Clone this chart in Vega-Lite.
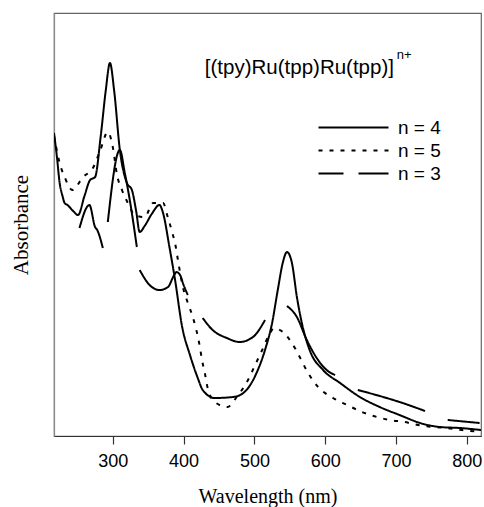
{
  "$schema": "https://vega.github.io/schema/vega-lite/v6.json",
  "width": 427,
  "height": 423,
  "autosize": {"type": "none"},
  "padding": {"left": 54, "top": 13, "right": 3, "bottom": 71},
  "background": "white",
  "config": {
    "view": {"stroke": "#666", "strokeWidth": 1.2},
    "axis": {"grid": false}
  },
  "datasets": {
    "spectra": [
      {"n": "n = 4", "seg": "4", "wl": 217, "abs": 303},
      {"n": "n = 4", "seg": "4", "wl": 221, "abs": 280},
      {"n": "n = 4", "seg": "4", "wl": 225, "abs": 253},
      {"n": "n = 4", "seg": "4", "wl": 229, "abs": 240},
      {"n": "n = 4", "seg": "4", "wl": 232, "abs": 233},
      {"n": "n = 4", "seg": "4", "wl": 236, "abs": 231},
      {"n": "n = 4", "seg": "4", "wl": 244, "abs": 225},
      {"n": "n = 4", "seg": "4", "wl": 251, "abs": 221},
      {"n": "n = 4", "seg": "4", "wl": 260, "abs": 240},
      {"n": "n = 4", "seg": "4", "wl": 268, "abs": 256},
      {"n": "n = 4", "seg": "4", "wl": 275, "abs": 259},
      {"n": "n = 4", "seg": "4", "wl": 283, "abs": 300},
      {"n": "n = 4", "seg": "4", "wl": 290, "abs": 345},
      {"n": "n = 4", "seg": "4", "wl": 296, "abs": 373},
      {"n": "n = 4", "seg": "4", "wl": 302, "abs": 345},
      {"n": "n = 4", "seg": "4", "wl": 310, "abs": 286},
      {"n": "n = 4", "seg": "4", "wl": 320, "abs": 253},
      {"n": "n = 4", "seg": "4", "wl": 327, "abs": 246},
      {"n": "n = 4", "seg": "4", "wl": 333, "abs": 225},
      {"n": "n = 4", "seg": "4", "wl": 338, "abs": 204},
      {"n": "n = 4", "seg": "4", "wl": 345, "abs": 210},
      {"n": "n = 4", "seg": "4", "wl": 355, "abs": 222},
      {"n": "n = 4", "seg": "4", "wl": 366, "abs": 231},
      {"n": "n = 4", "seg": "4", "wl": 371, "abs": 223},
      {"n": "n = 4", "seg": "4", "wl": 380, "abs": 189},
      {"n": "n = 4", "seg": "4", "wl": 388, "abs": 156},
      {"n": "n = 4", "seg": "4", "wl": 398, "abs": 109},
      {"n": "n = 4", "seg": "4", "wl": 409, "abs": 81},
      {"n": "n = 4", "seg": "4", "wl": 420, "abs": 58},
      {"n": "n = 4", "seg": "4", "wl": 427, "abs": 46},
      {"n": "n = 4", "seg": "4", "wl": 444, "abs": 38},
      {"n": "n = 4", "seg": "4", "wl": 470, "abs": 39},
      {"n": "n = 4", "seg": "4", "wl": 486, "abs": 44},
      {"n": "n = 4", "seg": "4", "wl": 503, "abs": 63},
      {"n": "n = 4", "seg": "4", "wl": 515, "abs": 86},
      {"n": "n = 4", "seg": "4", "wl": 525, "abs": 113},
      {"n": "n = 4", "seg": "4", "wl": 533, "abs": 146},
      {"n": "n = 4", "seg": "4", "wl": 540, "abs": 173},
      {"n": "n = 4", "seg": "4", "wl": 546, "abs": 184},
      {"n": "n = 4", "seg": "4", "wl": 553, "abs": 173},
      {"n": "n = 4", "seg": "4", "wl": 560, "abs": 139},
      {"n": "n = 4", "seg": "4", "wl": 567, "abs": 113},
      {"n": "n = 4", "seg": "4", "wl": 578, "abs": 86},
      {"n": "n = 4", "seg": "4", "wl": 597, "abs": 66},
      {"n": "n = 4", "seg": "4", "wl": 621, "abs": 53},
      {"n": "n = 4", "seg": "4", "wl": 649, "abs": 39},
      {"n": "n = 4", "seg": "4", "wl": 677, "abs": 29},
      {"n": "n = 4", "seg": "4", "wl": 705, "abs": 21},
      {"n": "n = 4", "seg": "4", "wl": 734, "abs": 13},
      {"n": "n = 4", "seg": "4", "wl": 762, "abs": 9},
      {"n": "n = 4", "seg": "4", "wl": 790, "abs": 8},
      {"n": "n = 4", "seg": "4", "wl": 820, "abs": 6},

      {"n": "n = 5", "seg": "5", "wl": 217, "abs": 300},
      {"n": "n = 5", "seg": "5", "wl": 220, "abs": 289},
      {"n": "n = 5", "seg": "5", "wl": 225, "abs": 273},
      {"n": "n = 5", "seg": "5", "wl": 232, "abs": 259},
      {"n": "n = 5", "seg": "5", "wl": 243, "abs": 246},
      {"n": "n = 5", "seg": "5", "wl": 258, "abs": 259},
      {"n": "n = 5", "seg": "5", "wl": 272, "abs": 268},
      {"n": "n = 5", "seg": "5", "wl": 282, "abs": 285},
      {"n": "n = 5", "seg": "5", "wl": 293, "abs": 304},
      {"n": "n = 5", "seg": "5", "wl": 300, "abs": 289},
      {"n": "n = 5", "seg": "5", "wl": 306, "abs": 261},
      {"n": "n = 5", "seg": "5", "wl": 313, "abs": 246},
      {"n": "n = 5", "seg": "5", "wl": 322, "abs": 232},
      {"n": "n = 5", "seg": "5", "wl": 331, "abs": 221},
      {"n": "n = 5", "seg": "5", "wl": 345, "abs": 219},
      {"n": "n = 5", "seg": "5", "wl": 357, "abs": 233},
      {"n": "n = 5", "seg": "5", "wl": 371, "abs": 233},
      {"n": "n = 5", "seg": "5", "wl": 378, "abs": 218},
      {"n": "n = 5", "seg": "5", "wl": 383, "abs": 206},
      {"n": "n = 5", "seg": "5", "wl": 389, "abs": 189},
      {"n": "n = 5", "seg": "5", "wl": 392, "abs": 176},
      {"n": "n = 5", "seg": "5", "wl": 399, "abs": 149},
      {"n": "n = 5", "seg": "5", "wl": 406, "abs": 133},
      {"n": "n = 5", "seg": "5", "wl": 413, "abs": 119},
      {"n": "n = 5", "seg": "5", "wl": 423, "abs": 89},
      {"n": "n = 5", "seg": "5", "wl": 426, "abs": 76},
      {"n": "n = 5", "seg": "5", "wl": 430, "abs": 63},
      {"n": "n = 5", "seg": "5", "wl": 434, "abs": 48},
      {"n": "n = 5", "seg": "5", "wl": 444, "abs": 34},
      {"n": "n = 5", "seg": "5", "wl": 462, "abs": 29},
      {"n": "n = 5", "seg": "5", "wl": 476, "abs": 40},
      {"n": "n = 5", "seg": "5", "wl": 491, "abs": 56},
      {"n": "n = 5", "seg": "5", "wl": 501, "abs": 71},
      {"n": "n = 5", "seg": "5", "wl": 511, "abs": 86},
      {"n": "n = 5", "seg": "5", "wl": 520, "abs": 100},
      {"n": "n = 5", "seg": "5", "wl": 528, "abs": 108},
      {"n": "n = 5", "seg": "5", "wl": 536, "abs": 106},
      {"n": "n = 5", "seg": "5", "wl": 553, "abs": 93},
      {"n": "n = 5", "seg": "5", "wl": 564, "abs": 79},
      {"n": "n = 5", "seg": "5", "wl": 575, "abs": 64},
      {"n": "n = 5", "seg": "5", "wl": 590, "abs": 49},
      {"n": "n = 5", "seg": "5", "wl": 611, "abs": 38},
      {"n": "n = 5", "seg": "5", "wl": 631, "abs": 31},
      {"n": "n = 5", "seg": "5", "wl": 652, "abs": 24},
      {"n": "n = 5", "seg": "5", "wl": 673, "abs": 19},
      {"n": "n = 5", "seg": "5", "wl": 691, "abs": 16},
      {"n": "n = 5", "seg": "5", "wl": 712, "abs": 14},
      {"n": "n = 5", "seg": "5", "wl": 731, "abs": 11},
      {"n": "n = 5", "seg": "5", "wl": 752, "abs": 9},
      {"n": "n = 5", "seg": "5", "wl": 772, "abs": 8},
      {"n": "n = 5", "seg": "5", "wl": 793, "abs": 6},
      {"n": "n = 5", "seg": "5", "wl": 820, "abs": 4},

      {"n": "n = 3", "seg": "3a", "wl": 253, "abs": 208},
      {"n": "n = 3", "seg": "3a", "wl": 267, "abs": 231},
      {"n": "n = 3", "seg": "3a", "wl": 275, "abs": 209},
      {"n": "n = 3", "seg": "3a", "wl": 278, "abs": 206},
      {"n": "n = 3", "seg": "3a", "wl": 286, "abs": 188},
      {"n": "n = 3", "seg": "3b", "wl": 293, "abs": 214},
      {"n": "n = 3", "seg": "3b", "wl": 310, "abs": 286},
      {"n": "n = 3", "seg": "3b", "wl": 317, "abs": 263},
      {"n": "n = 3", "seg": "3b", "wl": 324, "abs": 236},
      {"n": "n = 3", "seg": "3b", "wl": 334, "abs": 189},
      {"n": "n = 3", "seg": "3c", "wl": 338, "abs": 166},
      {"n": "n = 3", "seg": "3c", "wl": 352, "abs": 151},
      {"n": "n = 3", "seg": "3c", "wl": 366, "abs": 146},
      {"n": "n = 3", "seg": "3c", "wl": 378, "abs": 149},
      {"n": "n = 3", "seg": "3c", "wl": 386, "abs": 160},
      {"n": "n = 3", "seg": "3c", "wl": 390, "abs": 164},
      {"n": "n = 3", "seg": "3c", "wl": 395, "abs": 161},
      {"n": "n = 3", "seg": "3c", "wl": 400, "abs": 151},
      {"n": "n = 3", "seg": "3c", "wl": 406, "abs": 141},
      {"n": "n = 3", "seg": "3d", "wl": 427, "abs": 118},
      {"n": "n = 3", "seg": "3d", "wl": 441, "abs": 106},
      {"n": "n = 3", "seg": "3d", "wl": 461, "abs": 98},
      {"n": "n = 3", "seg": "3d", "wl": 479, "abs": 94},
      {"n": "n = 3", "seg": "3d", "wl": 498, "abs": 99},
      {"n": "n = 3", "seg": "3d", "wl": 515, "abs": 116},
      {"n": "n = 3", "seg": "3e", "wl": 546, "abs": 130},
      {"n": "n = 3", "seg": "3e", "wl": 560, "abs": 119},
      {"n": "n = 3", "seg": "3e", "wl": 574, "abs": 96},
      {"n": "n = 3", "seg": "3e", "wl": 588, "abs": 78},
      {"n": "n = 3", "seg": "3e", "wl": 602, "abs": 66},
      {"n": "n = 3", "seg": "3e", "wl": 614, "abs": 61},
      {"n": "n = 3", "seg": "3f", "wl": 646, "abs": 46},
      {"n": "n = 3", "seg": "3f", "wl": 677, "abs": 40},
      {"n": "n = 3", "seg": "3f", "wl": 705, "abs": 34},
      {"n": "n = 3", "seg": "3f", "wl": 741, "abs": 25},
      {"n": "n = 3", "seg": "3g", "wl": 773, "abs": 16},
      {"n": "n = 3", "seg": "3g", "wl": 818, "abs": 13}
    ]
  },
  "layer": [
    {
      "data": {"name": "spectra"},
      "mark": {"type": "line", "color": "black", "strokeWidth": 2, "interpolate": "monotone", "clip": true},
      "encoding": {
        "x": {
          "field": "wl", "type": "quantitative",
          "scale": {"domain": [217, 820], "nice": false, "zero": false},
          "axis": {
            "values": [300, 400, 500, 600, 700, 800],
            "title": "Wavelength (nm)",
            "titleFont": "Liberation Serif", "titleFontSize": 20, "titleFontWeight": "normal", "titleColor": "black",
            "titlePadding": 16,
            "labelFont": "Liberation Sans", "labelFontSize": 18, "labelColor": "black", "labelPadding": 8,
            "tickSize": 8, "tickColor": "#333", "tickWidth": 1.2,
            "domainColor": "#333", "domainWidth": 1.2
          }
        },
        "y": {
          "field": "abs", "type": "quantitative",
          "scale": {"domain": [0, 423], "nice": false},
          "axis": {
            "title": "Absorbance",
            "titleFont": "Liberation Serif", "titleFontSize": 21, "titleFontWeight": "normal", "titleColor": "black",
            "titlePadding": 23,
            "labels": false, "ticks": false,
            "domainColor": "#888", "domainWidth": 1.2
          }
        },
        "detail": {"field": "seg"},
        "strokeDash": {
          "field": "n", "type": "nominal",
          "scale": {"domain": ["n = 4", "n = 5", "n = 3"], "range": [[1, 0], [4, 7], [1, 0]]},
          "legend": {
            "title": null,
            "orient": "none",
            "legendX": 290,
            "legendY": 105,
            "padding": 0,
            "symbolType": "M-7,0H7",
            "symbolSize": 100,
            "symbolStrokeWidth": 1.8,
            "symbolStrokeColor": "black",
            "symbolFillColor": "transparent",
            "labelFont": "Liberation Sans",
            "labelFontSize": 19,
            "labelColor": "black",
            "labelOffset": 35,
            "rowPadding": 3,
            "encode": {
              "symbols": {
                "update": {
                  "shape": {"signal": "datum.value === 'n = 3' ? 'M-7,0H-2M1,0H7' : 'M-7,0H7'"},
                  "strokeDash": {"signal": "datum.value === 'n = 5' ? [5, 4] : [1, 0]"}
                }
              }
            }
          }
        }
      }
    },
    {
      "data": {"values": [{}]},
      "mark": {"type": "text", "align": "left", "baseline": "middle", "font": "Liberation Sans", "fontSize": 20.5, "color": "black"},
      "encoding": {
        "x": {"datum": 430},
        "y": {"datum": 368},
        "text": {"value": "[(tpy)Ru(tpp)Ru(tpp)]"}
      }
    },
    {
      "data": {"values": [{}]},
      "mark": {"type": "text", "align": "left", "baseline": "middle", "font": "Liberation Sans", "fontSize": 13, "color": "black"},
      "encoding": {
        "x": {"datum": 701},
        "y": {"datum": 381},
        "text": {"value": "n+"}
      }
    }
  ]
}
